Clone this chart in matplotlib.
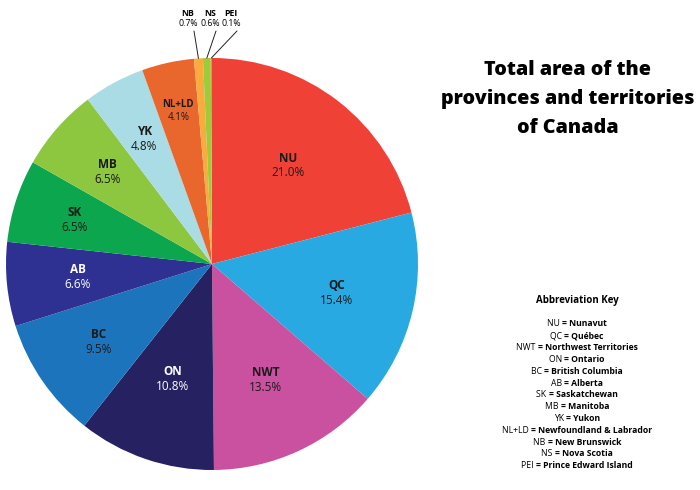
import numpy as np
import matplotlib.pyplot as plt

# Area share of each province / territory (percent), clockwise from the top
abbrevs = ['NU', 'QC', 'NWT', 'ON', 'BC', 'AB', 'SK', 'MB', 'YK', 'NL+LD', 'NB', 'NS', 'PEI']
shares = [21.0, 15.4, 13.5, 10.8, 9.5, 6.6, 6.5, 6.5, 4.8, 4.1, 0.7, 0.6, 0.1]
names = ['Nunavut', 'Québec', 'Northwest Territories', 'Ontario', 'British Columbia',
         'Alberta', 'Saskatchewan', 'Manitoba', 'Yukon', 'Newfoundland & Labrador',
         'New Brunswick', 'Nova Scotia', 'Prince Edward Island']
colors = ['#EF4136', '#29A9E1', '#C9519F', '#262262', '#1C75BC', '#2E3192', '#0BA64E',
          '#8DC63F', '#A9DCE4', '#E9672C', '#F9AC3D', '#9CCB3B', '#F7941E']
white_text = ['ON', 'AB']
small = ['NB', 'NS', 'PEI']
small_x = [188, 210, 231]  # label x positions (pixels) above the pie
# how far out (fraction of radius) each in-slice label sits
label_r = {'NU': 0.605, 'QC': 0.62, 'NWT': 0.62, 'ON': 0.59, 'BC': 0.67,
           'AB': 0.655, 'SK': 0.70, 'MB': 0.675, 'YK': 0.69, 'NL+LD': 0.76}

plt.rcParams['font.family'] = ['Open Sans', 'DejaVu Sans']

fig = plt.figure(figsize=(7, 4.9), dpi=100)
ax = fig.add_axes([6 / 700, 20 / 490, 412 / 700, 412 / 490])

wedges, _ = ax.pie(shares, colors=colors, startangle=90, counterclock=False,
                   wedgeprops=dict(linewidth=0))
ax.set_aspect('equal')
ax.set_xlim(-1, 1)
ax.set_ylim(-1, 1)

for w, ab, val in zip(wedges, abbrevs, shares):
    mid = np.deg2rad((w.theta1 + w.theta2) / 2)
    if ab in small:
        continue
    r = label_r[ab]
    x, y = r * np.cos(mid), r * np.sin(mid)
    c = 'white' if ab in white_text else '#1a1a1a'
    fs = 7 if ab == 'NL+LD' else 8.5
    dy = 0.03 if ab == 'NL+LD' else 0.036
    ax.text(x, y + dy, ab, ha='center', va='center', fontsize=fs,
            fontweight='bold', color=c)
    ax.text(x, y - dy, f'{val:.1f}%', ha='center', va='center', fontsize=fs,
            color=c)

# tiny slices labelled above the pie with leader lines
for w, ab, val in zip(wedges, abbrevs, shares):
    if ab not in small:
        continue
    mid = np.deg2rad((w.theta1 + w.theta2) / 2)
    px = small_x[small.index(ab)]
    ax.annotate('', xy=(np.cos(mid), np.sin(mid)), xycoords='data',
                xytext=(px + 6, 490 - 31), textcoords='figure pixels',
                arrowprops=dict(arrowstyle='-', lw=0.7, color='#222222',
                                shrinkA=0, shrinkB=0))
    fig.text(px / 700, 1 - 13 / 490, ab, ha='center', va='center', fontsize=6.3,
             fontweight='bold')
    fig.text(px / 700, 1 - 24 / 490, f'{val:.1f}%', ha='center', va='center',
             fontsize=6.3)

fig.text(568 / 700, 1 - 99 / 490,
         'Total area of the\nprovinces and territories\nof Canada',
         ha='center', va='center', fontsize=14.2, fontweight='heavy',
         linespacing=1.6)

fig.text(577 / 700, 1 - 300 / 490, 'Abbreviation Key', ha='center', va='center',
         fontsize=7, fontweight='bold')

# key lines: abbreviation regular, "= name" bold, whole line centred
renderer = fig.canvas.get_renderer()
cx = 577
for i, (ab, nm) in enumerate(zip(abbrevs, names)):
    ypix = 490 - (324 + i * 11.8)
    t1 = fig.text(0, ypix / 490, ab + ' ', ha='left', va='center', fontsize=6.2)
    t2 = fig.text(0, ypix / 490, '= ' + nm, ha='left', va='center', fontsize=6.2,
                  fontweight='bold')
    w1 = t1.get_window_extent(renderer).width
    w2 = t2.get_window_extent(renderer).width
    x0 = cx - (w1 + w2) / 2
    t1.set_x(x0 / 700)
    t2.set_x((x0 + w1) / 700)

fig.savefig('out.png', dpi=100)
